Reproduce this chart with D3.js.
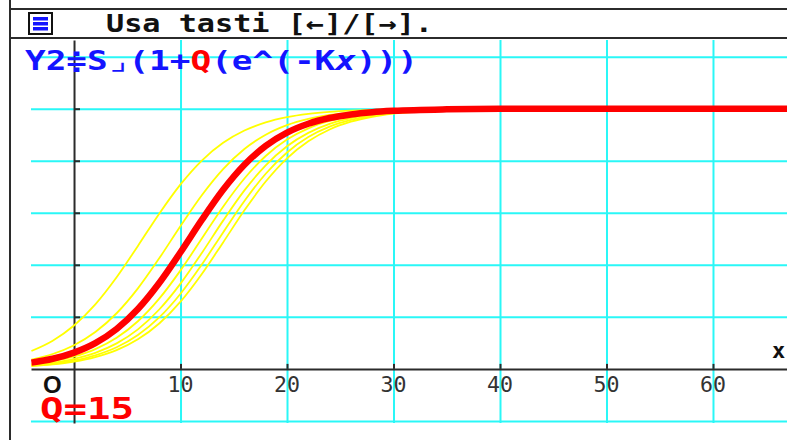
<!DOCTYPE html>
<html>
<head>
<meta charset="utf-8">
<script src="https://cdn.jsdelivr.net/npm/d3@7/dist/d3.min.js"></script>
<style>
  html, body { margin: 0; padding: 0; background: #ffffff; }
  svg { display: block; }
</style>
</head>
<body>
<svg id="chart" width="787" height="440"></svg>
<script>
// ---- data (y in grid units) ----
const xValues = [-4, -2, 0, 2, 4, 6, 8, 10, 12, 14, 16, 18, 20, 22, 24, 26, 28, 30, 35, 40, 50, 60, 67];
const curveQ15 = [0.120, 0.194, 0.313, 0.495, 0.767, 1.150, 1.650, 2.241, 2.862, 3.441, 3.922, 4.286, 4.541, 4.711, 4.821, 4.890, 4.933, 4.959, 4.988, 4.997, 5.0, 5.0, 5.0];
const curveQ5  = [0.343, 0.541, 0.833, 1.240, 1.761, 2.363, 2.982, 3.545, 4.004, 4.344, 4.580, 4.737, 4.837, 4.900, 4.939, 4.963, 4.977, 4.986, 4.996, 4.999, 5.0, 5.0, 5.0];
const curveQ10 = [0.177, 0.286, 0.455, 0.708, 1.069, 1.547, 2.125, 2.746, 3.338, 3.840, 4.226, 4.500, 4.684, 4.804, 4.879, 4.926, 4.955, 4.972, 4.992, 4.998, 5.0, 5.0, 5.0];
const curveQ20 = [0.090, 0.147, 0.238, 0.381, 0.598, 0.915, 1.349, 1.893, 2.505, 3.117, 3.659, 4.091, 4.406, 4.622, 4.764, 4.854, 4.910, 4.945, 4.984, 4.995, 5.0, 5.0, 5.0];
const curveQ25 = [0.073, 0.118, 0.192, 0.309, 0.490, 0.760, 1.141, 1.638, 2.227, 2.849, 3.430, 3.913, 4.279, 4.536, 4.708, 4.819, 4.889, 4.932, 4.980, 4.994, 5.0, 5.0, 5.0];
const curveQ30 = [0.061, 0.099, 0.161, 0.261, 0.415, 0.650, 0.988, 1.444, 2.005, 2.623, 3.227, 3.750, 4.159, 4.454, 4.654, 4.784, 4.867, 4.918, 4.976, 4.993, 5.0, 5.0, 5.0];
const curveQ35 = [0.052, 0.085, 0.139, 0.225, 0.360, 0.568, 0.872, 1.291, 1.823, 2.431, 3.047, 3.600, 4.046, 4.374, 4.601, 4.750, 4.845, 4.905, 4.972, 4.992, 5.0, 5.0, 5.0];
const yellowCurves = [curveQ5, curveQ10, curveQ20, curveQ25, curveQ30, curveQ35];
const xTickValues = [10, 20, 30, 40, 50, 60];
const yGridValues = [-1, 1, 2, 3, 4, 5, 6];
const titleText = "Usa tasti [←]/[→].";
const formulaParts = [["Y2≑S⌟(1+", "#1414ff"], ["Q", "#ff0000"], ["(e^(-K", "#1414ff"], ["x", "#1414ff", "italic"], [")))", "#1414ff"]];
const paramLabel = "Q=15";

// ---- layout ----
const svg = d3.select("#chart");
const x = d3.scaleLinear().domain([-4.04, 66.95]).range([31, 787]);
const y = d3.scaleLinear().domain([-1.04, 6.32]).range([423, 40]);

const CYAN = "#2af7f7", AXIS = "#2b2b2b";

// grid: vertical
const gx = svg.append("g").attr("transform", `translate(0,${y(-1.04)})`)
  .call(d3.axisBottom(x).tickValues(xTickValues).tickSize(-(y(-1.04) - y(6.32))).tickFormat(""));
gx.select(".domain").remove();
gx.selectAll(".tick line").attr("stroke", CYAN).attr("stroke-width", 2);

// grid: horizontal
const gy = svg.append("g").attr("transform", `translate(${x(-4.04)},0)`)
  .call(d3.axisLeft(y).tickValues(yGridValues).tickSize(-(x(66.95) - x(-4.04))).tickFormat(""));
gy.select(".domain").remove();
gy.selectAll(".tick line").attr("stroke", CYAN).attr("stroke-width", 2);

// x axis
const xa = svg.append("g").attr("transform", `translate(0,${y(0)})`)
  .call(d3.axisTop(x).tickValues(xTickValues).tickSize(5).tickSizeOuter(0).tickFormat(""));
xa.select(".domain").attr("stroke", AXIS).attr("stroke-width", 2);
xa.selectAll(".tick line").attr("stroke", AXIS).attr("stroke-width", 2);

// y axis
const ya = svg.append("g").attr("transform", `translate(${x(0)},0)`)
  .call(d3.axisRight(y).tickValues([1, 2, 3, 4, 5]).tickSize(6).tickSizeOuter(0).tickFormat(""));
ya.select(".domain").attr("stroke", AXIS).attr("stroke-width", 2);
ya.selectAll(".tick line").attr("stroke", AXIS).attr("stroke-width", 2);

// x tick labels
svg.append("g").selectAll("text").data(xTickValues).join("text")
  .attr("x", d => x(d)).attr("y", 392)
  .attr("text-anchor", "middle")
  .attr("font-family", "DejaVu Sans Mono").attr("font-size", 21)
  .attr("fill", "#333")
  .attr("textLength", 26).attr("lengthAdjust", "spacingAndGlyphs")
  .text(d => d);

// x axis name
svg.append("text").attr("x", 772).attr("y", 358)
  .attr("font-family", "DejaVu Sans Mono").attr("font-weight", "bold").attr("font-size", 22)
  .attr("fill", "#111").text("x");

// curves
const clip = svg.append("clipPath").attr("id", "plotclip").append("rect")
  .attr("x", x(-4.04)).attr("y", y(6.32)).attr("width", x(66.95) - x(-4.04)).attr("height", y(-1.04) - y(6.32));
const line = d3.line().x((d, i) => x(xValues[i])).y(d => y(d)).curve(d3.curveMonotoneX);
const curves = svg.append("g").attr("clip-path", "url(#plotclip)");
curves.selectAll("path.yellow").data(yellowCurves).join("path")
  .attr("class", "yellow").attr("d", line)
  .attr("fill", "none").attr("stroke", "#ffff00").attr("stroke-width", 1.8);
curves.append("path").datum(curveQ15).attr("d", line)
  .attr("fill", "none").attr("stroke", "#ff0000").attr("stroke-width", 6.5)
  .attr("stroke-linejoin", "round");

// frame lines
svg.append("line").attr("x1", 10).attr("x2", 10).attr("y1", 0).attr("y2", 440).attr("stroke", AXIS).attr("stroke-width", 2);
svg.append("line").attr("x1", 10).attr("x2", 787).attr("y1", 9).attr("y2", 9).attr("stroke", AXIS).attr("stroke-width", 2);
svg.append("line").attr("x1", 10).attr("x2", 787).attr("y1", 38).attr("y2", 38).attr("stroke", AXIS).attr("stroke-width", 2);

// title icon
const icon = svg.append("g");
icon.append("rect").attr("x", 29).attr("y", 13).attr("width", 23).attr("height", 21).attr("fill", "#fff").attr("stroke", "#111").attr("stroke-width", 2);
[17, 22, 27].forEach(v => icon.append("rect").attr("x", 33).attr("y", v).attr("width", 15).attr("height", 3.5).attr("fill", "#1414ff"));

// title text
svg.append("text").attr("x", 106).attr("y", 32)
  .attr("font-family", "DejaVu Sans Mono").attr("font-weight", "bold").attr("font-size", 25)
  .attr("fill", "#111").attr("textLength", 327).attr("lengthAdjust", "spacingAndGlyphs")
  .text(titleText);

// formula
const ft = svg.append("text").attr("x", 25).attr("y", 70)
  .attr("font-family", "DejaVu Sans Mono").attr("font-weight", "bold").attr("font-size", 26)
  .attr("textLength", 393).attr("lengthAdjust", "spacingAndGlyphs");
formulaParts.forEach(p => ft.append("tspan").attr("fill", p[1]).attr("font-style", p[2] || null).text(p[0]));

// origin label
svg.append("text").attr("x", 43).attr("y", 393)
  .attr("font-family", "Liberation Sans").attr("font-weight", "bold").attr("font-size", 24)
  .attr("fill", "#111").text("O");

// parameter label
svg.append("text").attr("x", 40).attr("y", 419)
  .attr("font-family", "DejaVu Sans Mono").attr("font-weight", "bold").attr("font-size", 31)
  .attr("fill", "#ff0000").attr("textLength", 94).attr("lengthAdjust", "spacingAndGlyphs")
  .text(paramLabel);
</script>
</body>
</html>
